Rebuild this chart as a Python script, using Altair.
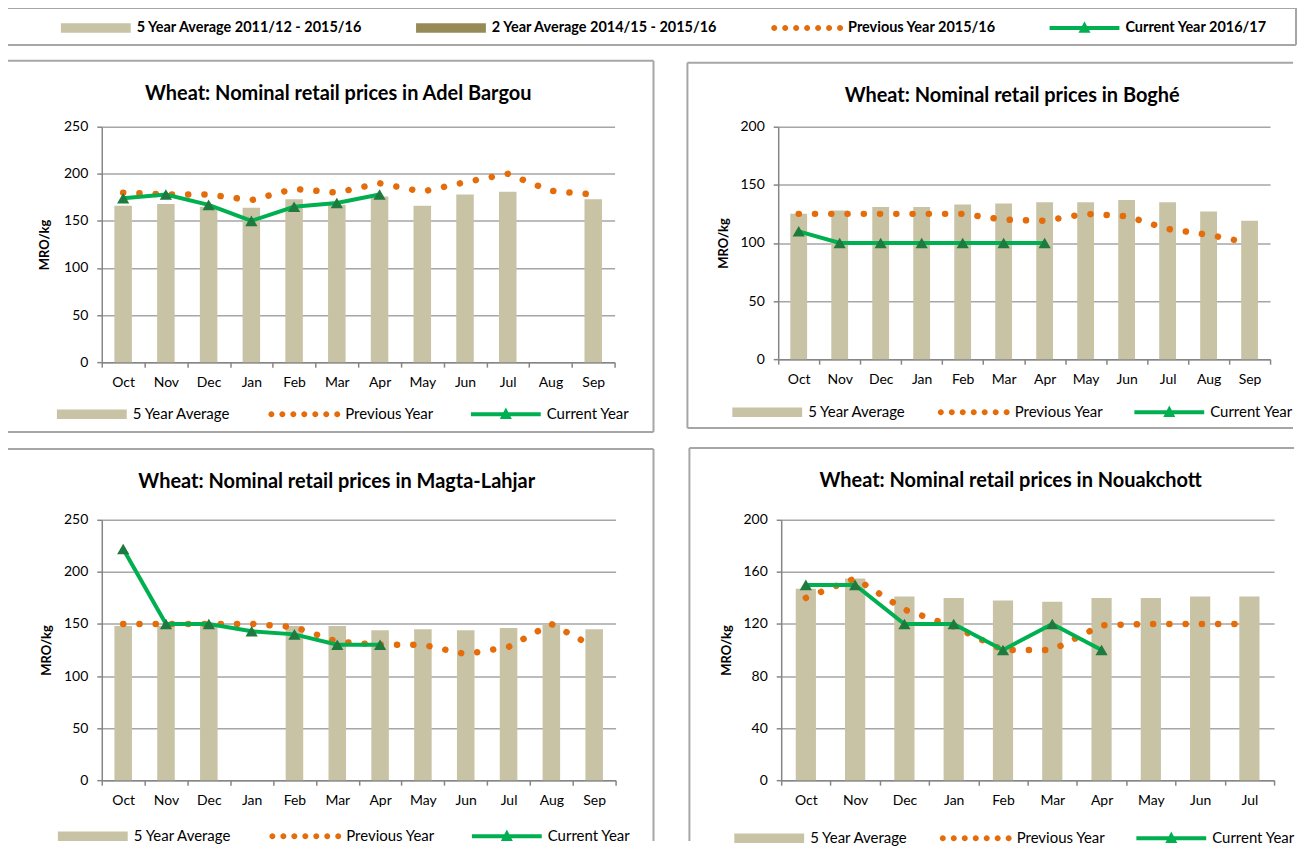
import altair as alt
import pandas as pd

months = ["Oct", "Nov", "Dec", "Jan", "Feb", "Mar", "Apr", "May", "Jun", "Jul", "Aug", "Sep"]

# Adel Bargou
adel_5yr = [166, 168, 165, 164, 173, 167, 176, 166, 178, 181, None, 173]
adel_prev = [180, 178, 178, 172, 184, 180, 190, 181, 191, 200, 182, 178]
adel_cur = [174, 178, 167, 150, 165, 169, 178]

# Boghé
boghe_5yr = [125, 128, 131, 131, 133, 134, 135, 135, 137, 135, 127, 119]
boghe_prev = [125, 125, 125, 125, 125, 120, 119, 125, 123, 112, 107, 100]
boghe_cur = [110, 100, 100, 100, 100, 100, 100]

# Magta-Lahjar
magta_5yr = [148, 148, 148, None, 148, 148, 144, 145, 144, 146, 150, 145]
magta_prev = [150, 150, 150, 150, 147, 133, 130, 130, 121, 128, 150, 128]
magta_cur = [222, 150, 150, 143, 140, 130, 130]

# Nouakchott
nouak_5yr = [147, 155, 141, 140, 138, 137, 140, 140, 141, 141, None, None]
nouak_prev = [140, 155, 131, 118, 100, 100, 119, 120, 120, 120, None, None]
nouak_cur = [150, 150, 120, 120, 100, 120, 100]

panel_series = ["5 Year Average", "Previous Year", "Current Year"]
top_series = ["5 Year Average 2011/12 - 2015/16", "2 Year Average 2014/15 - 2015/16",
              "Previous Year 2015/16", "Current Year 2016/17"]

FONT = "Lato"
TAN = "#C9C3A5"
OLIVE = "#968B56"
ORANGE = "#E46C0A"
GREEN = "#00B050"
DKGREEN = "#1E7A3E"
GRID = "#A6A6A6"
AXIS = "#868686"
FRAME = "#A6A6A6"


def circles(n, x0, x1, r):
    step = (x1 - x0) / (n - 1)
    parts = []
    for i in range(n):
        cx = x0 + i * step
        parts.append(f"M{cx - r:.3f},0 a{r},{r} 0 1,0 {2 * r},0 a{r},{r} 0 1,0 {-2 * r},0 Z")
    return " ".join(parts)


RECT = "M-7,-0.95 H7 V0.95 H-7 Z"
DOTS = circles(7, -6.6, 6.6, 0.6)
LINE_TRI = "M-7,-0.4 H7 V0.4 H-7 Z M0,-1.35 L1.2,0.95 L-1.2,0.95 Z"


def legend_def(x, y, size, bold, col_pad):
    sym_off = 35 - size / 2
    lab_off = 76 - size - sym_off
    return alt.Legend(title=None, orient="none", legendX=x, legendY=y - size / 2,
                      direction="horizontal", symbolSize=100, symbolStrokeWidth=0,
                      symbolOffset=sym_off, labelOffset=lab_off, columnPadding=col_pad,
                      labelFont=FONT, labelFontSize=size,
                      labelFontWeight="bold" if bold else "normal", labelColor="#000",
                      labelLimit=400)


def legend_layer(df, series, colors, shapes, leg):
    return alt.Chart(df).mark_point(filled=True, opacity=1).encode(
        color=alt.Color("series:N", scale=alt.Scale(domain=series, range=colors), legend=leg),
        shape=alt.Shape("series:N", scale=alt.Scale(domain=series, range=shapes), legend=leg),
    ).transform_filter("false")


def seg(x1, x2, y1, y2):
    return alt.Chart(alt.Data(values=[{"k": 1}])).mark_rule(
        color=FRAME, strokeWidth=2
    ).encode(x=alt.value(x1), x2=alt.value(x2), y=alt.value(y1), y2=alt.value(y2))


def panel(title, five, prev, cur, ymax, ystep, w, h, segs, title_dx, leg_x, leg_y, leg_pad,
          ytitle_x):
    df = pd.DataFrame({
        "month": months,
        "five": five,
        "prev": prev,
        "cur": cur + [None] * (12 - len(cur)),
        "series": [panel_series[0]] * 12,
    })
    x = alt.X("month:N", sort=months, title=None,
              scale=alt.Scale(type="band", paddingInner=0, paddingOuter=0),
              axis=alt.Axis(labelAngle=0, tickBand="extent", ticks=True, tickSize=5, tickWidth=1.5,
                            tickColor=AXIS, domainColor=AXIS, domainWidth=1.5, labelPadding=8,
                            labelFont=FONT, labelFontSize=14, labelColor="#000", grid=False))

    def y(field):
        return alt.Y(f"{field}:Q", title="MRO/kg",
                     scale=alt.Scale(domain=[0, ymax], nice=False, zero=True),
                     axis=alt.Axis(values=list(range(0, ymax + 1, ystep)), grid=True, gridColor=GRID,
                                   gridWidth=1.5, domainColor=AXIS, domainWidth=1.5, ticks=True,
                                   tickSize=5, tickColor=AXIS, tickWidth=1.5, labelPadding=9,
                                   labelFont=FONT, labelFontSize=14, labelColor="#000",
                                   titleFont=FONT, titleFontSize=13, titleFontWeight="bold",
                                   titleColor="#000", titleX=ytitle_x, titleY=h / 2,
                                   titleAngle=270, titleBaseline="middle", titleAlign="center"))

    base = alt.Chart(df)
    bars = base.mark_bar(color=TAN, width=alt.RelativeBandSize(0.41)).encode(
        x=x, y=y("five")).transform_filter("isValid(datum.five)")
    prev_line = base.mark_line(color=ORANGE, strokeWidth=6.5, strokeDash=[0.1, 16.2],
                               strokeCap="round").encode(
        x=x, y=y("prev")).transform_filter("isValid(datum.prev)")
    cur_line = base.mark_line(color=GREEN, strokeWidth=4).encode(
        x=x, y=y("cur")).transform_filter("isValid(datum.cur)")
    cur_pts = base.mark_point(shape="triangle-up", filled=True, size=150, color=DKGREEN,
                              opacity=1).encode(
        x=x, y=y("cur")).transform_filter("isValid(datum.cur)")
    leg = legend_layer(df, panel_series, [TAN, ORANGE, GREEN], [RECT, DOTS, LINE_TRI],
                       legend_def(leg_x, leg_y, 15, False, leg_pad))
    return alt.layer(*segs, bars, prev_line, cur_line, cur_pts, leg).properties(
        width=w, height=h,
        title=alt.TitleParams(text=title, anchor="middle", frame="group", offset=0, dx=title_dx,
                              dy=54, baseline="middle", font=FONT, fontSize=20,
                              fontWeight="bold", color="#000"))


p1 = panel("Wheat: Nominal retail prices in Adel Bargou", adel_5yr, adel_prev, adel_cur,
           250, 50, 514, 236,
           [seg(-95, 553, -66, -66), seg(-95, 553, 306, 306), seg(-95, -95, -66, 306),
            seg(553, 553, -66, 306)],
           -20, -45, 288, 37, -57)

p2 = panel("Wheat: Nominal retail prices in Boghé", boghe_5yr, boghe_prev, boghe_cur,
           200, 50, 493, 233,
           [seg(-91, 516, -64, -64), seg(-91, 516, 302, 302), seg(-91, -91, -64, 302)],
           -12, -46, 286, 31, -55)

p3 = panel("Wheat: Nominal retail prices in Magta-Lahjar", magta_5yr, magta_prev, magta_cur,
           250, 50, 515, 261,
           [seg(-95, 553, -71, -71), seg(-95, -95, -71, 322), seg(553, 553, -71, 322)],
           -22, -44, 317, 37, -55)

p4 = panel("Wheat: Nominal retail prices in Nouakchott", nouak_5yr, nouak_prev, nouak_cur,
           200, 40, 494, 261,
           [seg(-92, 514, -72, -72), seg(-92, -92, -72, 322)],
           -17, -47, 319, 31, -55)

top_df = pd.DataFrame({"series": top_series})
top = alt.layer(
    seg(-95, 1197, 0, 0), seg(-95, 1197, 37, 37), seg(-95, -95, 0, 37), seg(1197, 1197, 0, 37),
    legend_layer(top_df, top_series, [TAN, OLIVE, ORANGE, GREEN], [RECT, RECT, DOTS, LINE_TRI],
                 legend_def(-41, 20, 14.5, True, 53)),
).properties(width=1000, height=37)

indep = dict(color="independent", shape="independent")
row1 = alt.hconcat(p1, p2, spacing=30).resolve_scale(**indep).resolve_legend(**indep)
row2 = alt.hconcat(p3, p4, spacing=32).resolve_scale(**indep).resolve_legend(**indep)

chart = alt.vconcat(top, row1, row2, spacing=12).resolve_scale(**indep).resolve_legend(
    **indep).properties(padding={"left": -3, "top": -3, "right": 0, "bottom": 0}).configure_view(
    stroke="transparent")

chart.save("out.html", embed_options={"renderer": "svg", "actions": False})
